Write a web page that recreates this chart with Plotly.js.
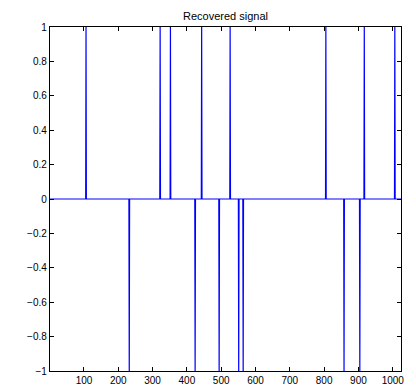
<!DOCTYPE html>
<html>
<head>
<meta charset="utf-8">
<script src="https://cdn.plot.ly/plotly-3.0.1.min.js"></script>
<style>html,body{margin:0;padding:0;background:#fff;}</style>
</head>
<body>
<div id="chart" style="width:416px;height:388px;"></div>
<script>
// Sparse recovered signal: length, spike positions (sample index) and values
var signalLength = 1024;
var posSpikes = [106, 322, 352, 443, 526, 805, 917, 1006];
var negSpikes = [232, 424, 494, 551, 564, 858, 904];
var xTickVals = [100, 200, 300, 400, 500, 600, 700, 800, 900, 1000];
var yTickVals = [-1, -0.8, -0.6, -0.4, -0.2, 0, 0.2, 0.4, 0.6, 0.8, 1];
var yTickText = ['\u22121', '\u22120.8', '\u22120.6', '\u22120.4', '\u22120.2', '0', '0.2', '0.4', '0.6', '0.8', '1'];

var xs = [], ys = [];
for (var i = 1; i <= signalLength; i++) { xs.push(i); ys.push(0); }
posSpikes.forEach(function (k) { ys[k - 1] = 1; });
negSpikes.forEach(function (k) { ys[k - 1] = -1; });

var trace = {
  x: xs, y: ys, type: 'scatter', mode: 'lines',
  line: { color: '#0000ff', width: 1.2, simplify: false },
  hoverinfo: 'skip'
};

var axisCommon = {
  showline: true, linecolor: '#000', linewidth: 1.2, mirror: 'ticks',
  ticks: 'inside', ticklen: 4, tickcolor: '#000', tickwidth: 1,
  showgrid: false, zeroline: false,
  tickfont: { family: 'Liberation Sans, Arial, sans-serif', size: 10, color: '#000' }
};

var layout = {
  width: 416, height: 388,
  margin: { l: 50, r: 15, t: 27, b: 17 },
  paper_bgcolor: '#fff', plot_bgcolor: '#fff',
  showlegend: false,
  title: {
    text: 'Recovered signal',
    font: { family: 'Liberation Sans, Arial, sans-serif', size: 11, color: '#000' },
    x: 0.5, xref: 'paper', xanchor: 'center', y: 1, yref: 'paper', yanchor: 'bottom',
    pad: { b: 7 }
  },
  xaxis: Object.assign({}, axisCommon, {
    range: [1, signalLength], tickmode: 'array', tickvals: xTickVals
  }),
  yaxis: Object.assign({}, axisCommon, {
    range: [-1, 1], tickmode: 'array', tickvals: yTickVals, ticktext: yTickText
  })
};

Plotly.newPlot('chart', [trace], layout, { displayModeBar: false, staticPlot: true });
</script>
</body>
</html>
